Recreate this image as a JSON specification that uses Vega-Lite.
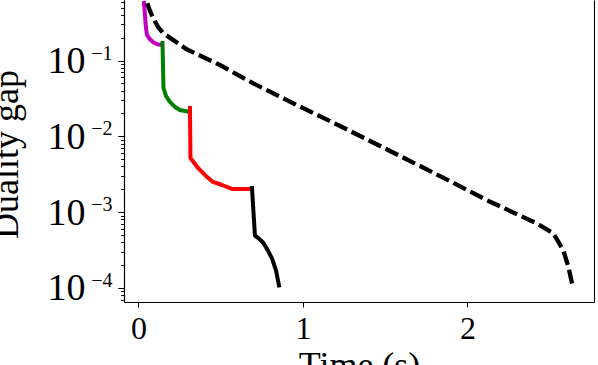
{
  "$schema": "https://vega.github.io/schema/vega-lite/v6.json",
  "width": 470,
  "height": 302,
  "autosize": {"type": "none"},
  "padding": {"left": 124, "top": 0, "right": 4, "bottom": 63},
  "background": "white",
  "config": {
    "view": {"stroke": null},
    "font": "Liberation Serif",
    "axis": {"grid": false, "domainColor": "#000000", "domainWidth": 1.1, "tickColor": "#000000", "tickWidth": 1, "labelColor": "#000000", "titleColor": "#000000", "labelFont": "Liberation Serif", "titleFont": "Liberation Serif", "titleFontWeight": "normal", "labelOverlap": false, "labelBound": false}
  },
  "datasets": {
    "solid": [
      {"t": 0.0334, "gap": 0.574, "s": "a"},
      {"t": 0.0395, "gap": 0.398, "s": "a"},
      {"t": 0.0456, "gap": 0.268, "s": "a"},
      {"t": 0.0517, "gap": 0.217, "s": "a"},
      {"t": 0.070, "gap": 0.190, "s": "a"},
      {"t": 0.090, "gap": 0.174, "s": "a"},
      {"t": 0.114, "gap": 0.164, "s": "a"},
      {"t": 0.141, "gap": 0.160, "s": "a"},
      {"t": 0.146, "gap": 0.170, "s": "b"},
      {"t": 0.152, "gap": 0.0434, "s": "b"},
      {"t": 0.167, "gap": 0.0341, "s": "b"},
      {"t": 0.191, "gap": 0.0284, "s": "b"},
      {"t": 0.222, "gap": 0.0244, "s": "b"},
      {"t": 0.252, "gap": 0.0222, "s": "b"},
      {"t": 0.301, "gap": 0.0212, "s": "b"},
      {"t": 0.313, "gap": 0.0236, "s": "c"},
      {"t": 0.316, "gap": 0.00518, "s": "c"},
      {"t": 0.362, "gap": 0.00382, "s": "c"},
      {"t": 0.410, "gap": 0.00300, "s": "c"},
      {"t": 0.453, "gap": 0.00250, "s": "c"},
      {"t": 0.508, "gap": 0.00228, "s": "c"},
      {"t": 0.568, "gap": 0.00202, "s": "c"},
      {"t": 0.690, "gap": 0.00202, "s": "c"},
      {"t": 0.690, "gap": 0.00208, "s": "d"},
      {"t": 0.708, "gap": 0.00049, "s": "d"},
      {"t": 0.733, "gap": 0.000448, "s": "d"},
      {"t": 0.757, "gap": 0.000397, "s": "d"},
      {"t": 0.787, "gap": 0.000311, "s": "d"},
      {"t": 0.812, "gap": 0.000244, "s": "d"},
      {"t": 0.836, "gap": 0.000170, "s": "d"},
      {"t": 0.854, "gap": 0.000108, "s": "d"}
    ],
    "dashed": [
      {"t": 0.0535, "gap": 0.568},
      {"t": 0.070, "gap": 0.450},
      {"t": 0.090, "gap": 0.361},
      {"t": 0.1185, "gap": 0.277},
      {"t": 0.151, "gap": 0.229},
      {"t": 0.293, "gap": 0.1406},
      {"t": 0.495, "gap": 0.0872},
      {"t": 0.698, "gap": 0.0500},
      {"t": 0.962, "gap": 0.0259},
      {"t": 1.225, "gap": 0.01368},
      {"t": 1.529, "gap": 0.00640},
      {"t": 1.833, "gap": 0.00299},
      {"t": 2.137, "gap": 0.00137},
      {"t": 2.421, "gap": 0.000711},
      {"t": 2.522, "gap": 0.000525},
      {"t": 2.582, "gap": 0.000316},
      {"t": 2.613, "gap": 0.000190},
      {"t": 2.640, "gap": 0.000104}
    ]
  },
  "encoding": {
    "x": {
      "field": "t", "type": "quantitative",
      "scale": {"domain": [-0.088, 2.769], "nice": false, "zero": false},
      "axis": {"values": [0, 1, 2], "format": "d", "tickSize": 5, "labelFontSize": 32, "labelPadding": 6, "labelFlush": false, "title": "Time (s)", "titleFontSize": 36, "titleBaseline": "alphabetic", "titleAlign": "center", "titleX": 235, "titleY": 74}
    }
  },
  "layer": [
    {
      "data": {"name": "solid"},
      "mark": {"type": "line", "strokeWidth": 4, "strokeCap": "square", "strokeJoin": "round", "clip": true},
      "encoding": {
        "y": {
          "field": "gap", "type": "quantitative",
          "scale": {"type": "log", "domain": [0.0000652, 0.6283], "nice": false, "zero": false},
          "axis": {"orient": "left", "values": [0.0001, 0.001, 0.01, 0.1], "tickSize": 6, "domain": true, "labelFontSize": 38, "labelPadding": 33, "labelFlush": false, "labelBaseline": "alphabetic", "labelOffset": 12,
            "labelExpr": "'10'",
            "title": "Duality gap", "titleFontSize": 36, "titleAngle": -90, "titleBaseline": "alphabetic", "titleAlign": "center", "titleX": -107, "titleY": 154}
        },
        "color": {"field": "s", "type": "nominal", "scale": {"domain": ["a", "b", "c", "d"], "range": ["#bf00bf", "#008000", "#ff0000", "#000000"]}, "legend": null}
      }
    },
    {
      "data": {"name": "dashed"},
      "mark": {"type": "line", "strokeWidth": 4.3, "strokeDash": [14, 5], "strokeCap": "butt", "color": "#000000", "clip": true},
      "encoding": {
        "y": {
          "field": "gap", "type": "quantitative",
          "axis": {"orient": "left", "values": [0.00007, 0.00008, 0.00009, 0.0002, 0.0003, 0.0004, 0.0005, 0.0006, 0.0007, 0.0008, 0.0009, 0.002, 0.003, 0.004, 0.005, 0.006, 0.007, 0.008, 0.009, 0.02, 0.03, 0.04, 0.05, 0.06, 0.07, 0.08, 0.09, 0.2, 0.3, 0.4, 0.5, 0.6], "tickSize": 3.5, "tickWidth": 0.9, "labels": false, "domain": true, "title": null}
        }
      }
    },
    {
      "data": {"name": "dashed"},
      "mark": {"type": "line", "opacity": 0},
      "encoding": {
        "y": {
          "field": "gap", "type": "quantitative",
          "axis": {"orient": "right", "ticks": false, "labels": false, "domain": true, "title": null}
        }
      }
    },
    {
      "data": {"name": "dashed"},
      "mark": {"type": "line", "opacity": 0},
      "encoding": {
        "y": {
          "field": "gap", "type": "quantitative",
          "axis": {"orient": "left", "values": [0.0001, 0.001, 0.01, 0.1], "tickSize": 6, "domain": false, "labelFontSize": 20, "labelPadding": 6, "labelFlush": false, "labelBaseline": "alphabetic", "labelOffset": -1.5,
            "labelExpr": "datum.value < 0.0005 ? '−4' : datum.value < 0.005 ? '−3' : datum.value < 0.05 ? '−2' : '−1'",
            "title": null}
        }
      }
    }
  ],
  "resolve": {"axis": {"y": "independent"}}
}
